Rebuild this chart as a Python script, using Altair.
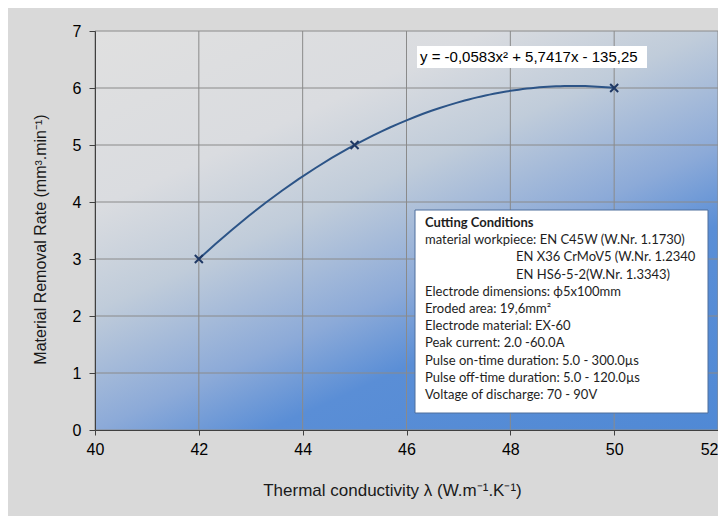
import altair as alt
import pandas as pd

# ---- data ----
conductivity = [42, 45, 50]
removal_rate = [3, 5, 6]
x_ticks = [40, 42, 44, 46, 48, 50, 52]
y_ticks = [0, 1, 2, 3, 4, 5, 6, 7]
equation = "y = -0,0583x² + 5,7417x - 135,25"
cond_title = "Cutting Conditions"
cond_lines = [
    "material workpiece: EN C45W (W.Nr. 1.1730)",
    "EN X36 CrMoV5 (W.Nr. 1.2340",
    "EN HS6-5-2(W.Nr. 1.3343)",
    "Electrode dimensions: ϕ5x100mm",
    "Eroded area: 19,6mm²",
    "Electrode material: EX-60",
    "Peak current: 2.0 -60.0A",
    "Pulse on-time duration: 5.0 - 300.0µs",
    "Pulse off-time duration: 5.0 - 120.0µs",
    "Voltage of discharge:  70 - 90V",
]
indented = [False, True, True, False, False, False, False, False, False, False]

W, H = 623, 399

pts = pd.DataFrame({"x": conductivity, "y": removal_rate})

xs = alt.Scale(domain=[40, 52], nice=False, zero=False)
ys = alt.Scale(domain=[0, 7], nice=False)

grad = alt.Gradient(
    gradient="linear",
    x1=0, y1=0, x2=0.807, y2=1.137,
    stops=[
        alt.GradientStop(color="#E0E0E0", offset=0),
        alt.GradientStop(color="#DADCE0", offset=0.26),
        alt.GradientStop(color="#C0CCDA", offset=0.41),
        alt.GradientStop(color="#8CAAD8", offset=0.585),
        alt.GradientStop(color="#5A8ED6", offset=0.70),
        alt.GradientStop(color="#5089D5", offset=1),
    ],
)

one = pd.DataFrame({"a": [0]})

bg = alt.Chart(one).mark_rect(fill=grad).encode(
    x=alt.value(0), x2=alt.value(W), y=alt.value(0), y2=alt.value(H)
)

xgrid = alt.Chart(pd.DataFrame({"v": x_ticks})).mark_rule(
    color="#8A8A8A", strokeWidth=1
).encode(x=alt.X("v:Q", scale=xs))
ygrid = alt.Chart(pd.DataFrame({"v": y_ticks})).mark_rule(
    color="#8A8A8A", strokeWidth=1
).encode(y=alt.Y("v:Q", scale=ys))

curve = alt.Chart(pts).transform_regression(
    "x", "y", method="poly", order=2
).mark_line(color="#2C5487", strokeWidth=2).encode(
    x=alt.X("x:Q", scale=xs), y=alt.Y("y:Q", scale=ys)
)

marks = alt.Chart(pts).mark_point(
    shape="M-1,-1L1,1M-1,1L1,-1", size=64, filled=False,
    color="#1F3864", strokeWidth=2, opacity=1
).encode(
    x=alt.X("x:Q", scale=xs,
            axis=alt.Axis(values=x_ticks, format="d", grid=False,
                          domainColor="#404040",
                          tickColor="#404040", tickSize=5, labelPadding=6,
                          labelFont="Liberation Sans", labelFontSize=16,
                          labelColor="#000000", labelFlush=False,
                          labelAlign=alt.expr("datum.value >= 52 ? 'right' : 'center'"),
                          title="Thermal conductivity λ (W.m⁻¹.K⁻¹)",
                          titleFont="Liberation Sans", titleFontSize=17,
                          titleFontWeight="normal", titleColor="#1A1A1A",
                          titleX=297, titleY=60, titleBaseline="middle",
                          titleAlign="center", zindex=1)),
    y=alt.Y("y:Q", scale=ys,
            axis=alt.Axis(values=y_ticks, format="d", grid=False,
                          domainColor="#404040",
                          tickColor="#404040", tickSize=6, labelPadding=8,
                          labelFont="Liberation Sans", labelFontSize=16,
                          labelColor="#000000", labelFlush=False,
                          title="Material Removal Rate (mm³.min⁻¹)",
                          titleFont="Liberation Sans", titleFontSize=16,
                          titleFontWeight="normal", titleColor="#1A1A1A",
                          titleX=-55, titleY=208, titleAngle=270,
                          titleBaseline="middle", titleAlign="center",
                          zindex=1)),
)

eq_box = alt.Chart(one).mark_rect(fill="white").encode(
    x=alt.value(322), x2=alt.value(552), y=alt.value(15), y2=alt.value(37)
)
eq_text = alt.Chart(pd.DataFrame({"t": [equation]})).mark_text(
    align="left", baseline="middle", font="Liberation Sans", fontSize=15,
    color="#000000"
).encode(x=alt.value(325), y=alt.value(26), text="t:N")

box = alt.Chart(one).mark_rect(
    fill="white", stroke="#4F6E9C", strokeWidth=1
).encode(x=alt.value(320), x2=alt.value(613), y=alt.value(179), y2=alt.value(382))

box_title = alt.Chart(pd.DataFrame({"t": [cond_title]})).mark_text(
    align="left", baseline="middle", font="Lato", fontSize=13,
    fontWeight="bold", color="#1E1E1E"
).encode(x=alt.value(330), y=alt.value(192), text="t:N")

rows = pd.DataFrame({
    "t": cond_lines,
    "px": [421 if ind else 330 for ind in indented],
    "py": [192 + 17.2 * (i + 1) for i in range(len(cond_lines))],
})
box_lines = alt.Chart(rows).mark_text(
    align="left", baseline="middle", font="Lato", fontSize=13,
    color="#1E1E1E"
).encode(
    x=alt.X("px:Q", scale=None), y=alt.Y("py:Q", scale=None), text="t:N"
)

chart = alt.layer(
    bg, xgrid, ygrid, curve, marks, eq_box, eq_text, box, box_title, box_lines
).properties(
    width=W, height=H,
    autosize=alt.AutoSizeParams(type="none"),
    padding={"left": 87, "top": 23, "right": 0, "bottom": 86},
    background="#D9D9D9",
).configure_view(strokeWidth=0)

chart.save("out.html", embed_options={"renderer": "svg", "actions": False})
